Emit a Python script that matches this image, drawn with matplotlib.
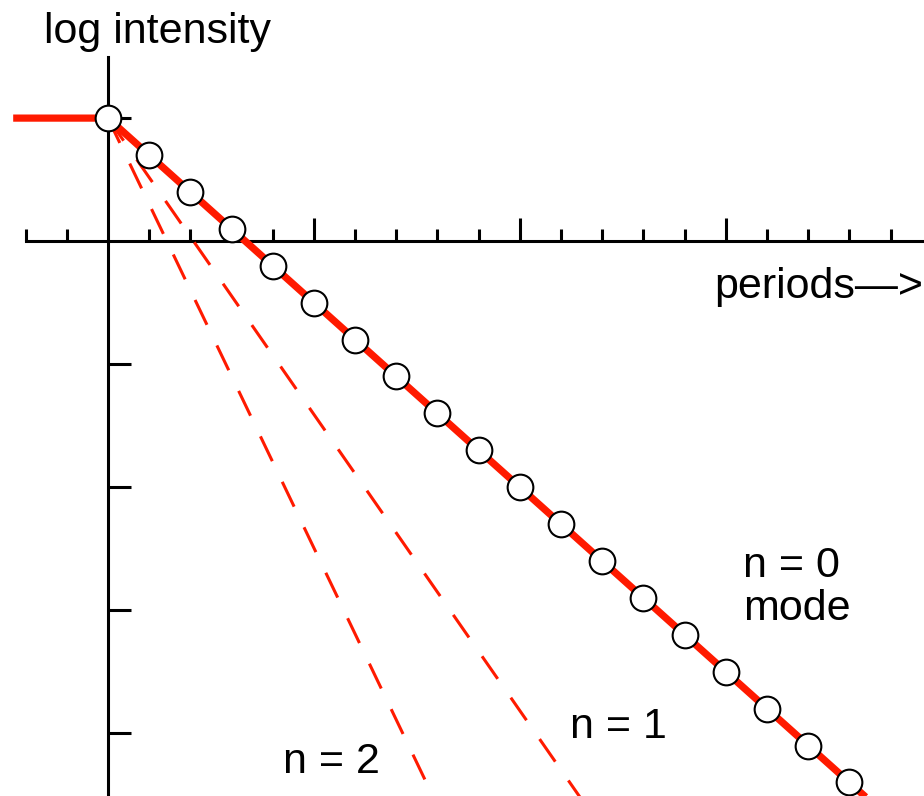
import matplotlib
matplotlib.use("Agg")
import matplotlib.pyplot as plt

# data
periods = [0, 1, 2, 3, 4, 5, 6, 7, 8, 9, 10, 11, 12, 13, 14, 15, 16, 17, 18]
log_int = [1.0, 0.7, 0.4, 0.1, -0.2, -0.5, -0.8, -1.1, -1.4, -1.7,
           -2.0, -2.3, -2.6, -2.9, -3.2, -3.5, -3.8, -4.1, -4.4]

# n = 0 line (flat before t=0, then decays)
n0_x = [-2.3, 0, 18.4]
n0_y = [1.0, 1.0, -4.52]
# faster decaying higher modes
n1_x = [0, 11.46]
n1_y = [1.0, -4.52]
n2_x = [0, 7.9]
n2_y = [1.0, -4.52]

x_major = [5, 10, 15]
x_minor = [-2, -1, 1, 2, 3, 4, 6, 7, 8, 9, 11, 12, 13, 14, 16, 17, 18, 19]
y_ticks = [1, -1, -2, -3, -4]

red = "#ff1a00"
plt.rcParams["font.family"] = ["Liberation Sans", "DejaVu Sans"]

fig = plt.figure(figsize=(9.24, 7.96), dpi=100)
ax = fig.add_axes([0, 0, 1, 1])
ax.set_xlim(-2.62, 19.81)
ax.set_ylim(-4.51, 1.96)

ax.plot(n2_x, n2_y, color=red, lw=2.2, dashes=(9, 7.5), zorder=2)
ax.plot(n1_x, n1_y, color=red, lw=2.2, dashes=(9, 7.5), zorder=2)
ax.plot(n0_x, n0_y, color=red, lw=5.2, solid_capstyle="butt", zorder=3)
ax.plot(periods, log_int, ls="none", marker="o", ms=18.5, mfc="white",
        mec="black", mew=1.5, zorder=4)

# axes through the origin
for s in ["top", "right"]:
    ax.spines[s].set_visible(False)
ax.spines["left"].set_position(("data", 0))
ax.spines["bottom"].set_position(("data", 0))
ax.spines["left"].set_bounds(-4.51, 1.5)
ax.spines["bottom"].set_bounds(-2, 19.81)
ax.spines["left"].set_linewidth(2.2)
ax.spines["bottom"].set_linewidth(2.2)
ax.spines["left"].set_zorder(1)
ax.spines["bottom"].set_zorder(1)

ax.set_xticks(x_major)
ax.set_xticks(x_minor, minor=True)
ax.set_yticks(y_ticks)
ax.tick_params(axis="x", which="major", direction="in", length=16.5, width=2.2,
               labelbottom=False)
ax.tick_params(axis="x", which="minor", direction="in", length=8.5, width=2.2)
ax.tick_params(axis="y", which="major", direction="in", length=16.5, width=2.2,
               labelleft=False)

fs = 31
ax.text(-1.55, 1.61, "log intensity", fontsize=fs, va="baseline")
ax.text(14.73, -0.463, "periods—>", fontsize=fs, va="baseline")
ax.text(15.41, -2.73, "n = 0", fontsize=fs, va="baseline")
ax.text(15.41, -3.08, "mode", fontsize=fs, va="baseline")
ax.text(11.21, -4.04, "n = 1", fontsize=fs, va="baseline")
ax.text(4.25, -4.32, "n = 2", fontsize=fs, va="baseline")

fig.savefig("out.png", dpi=100)
